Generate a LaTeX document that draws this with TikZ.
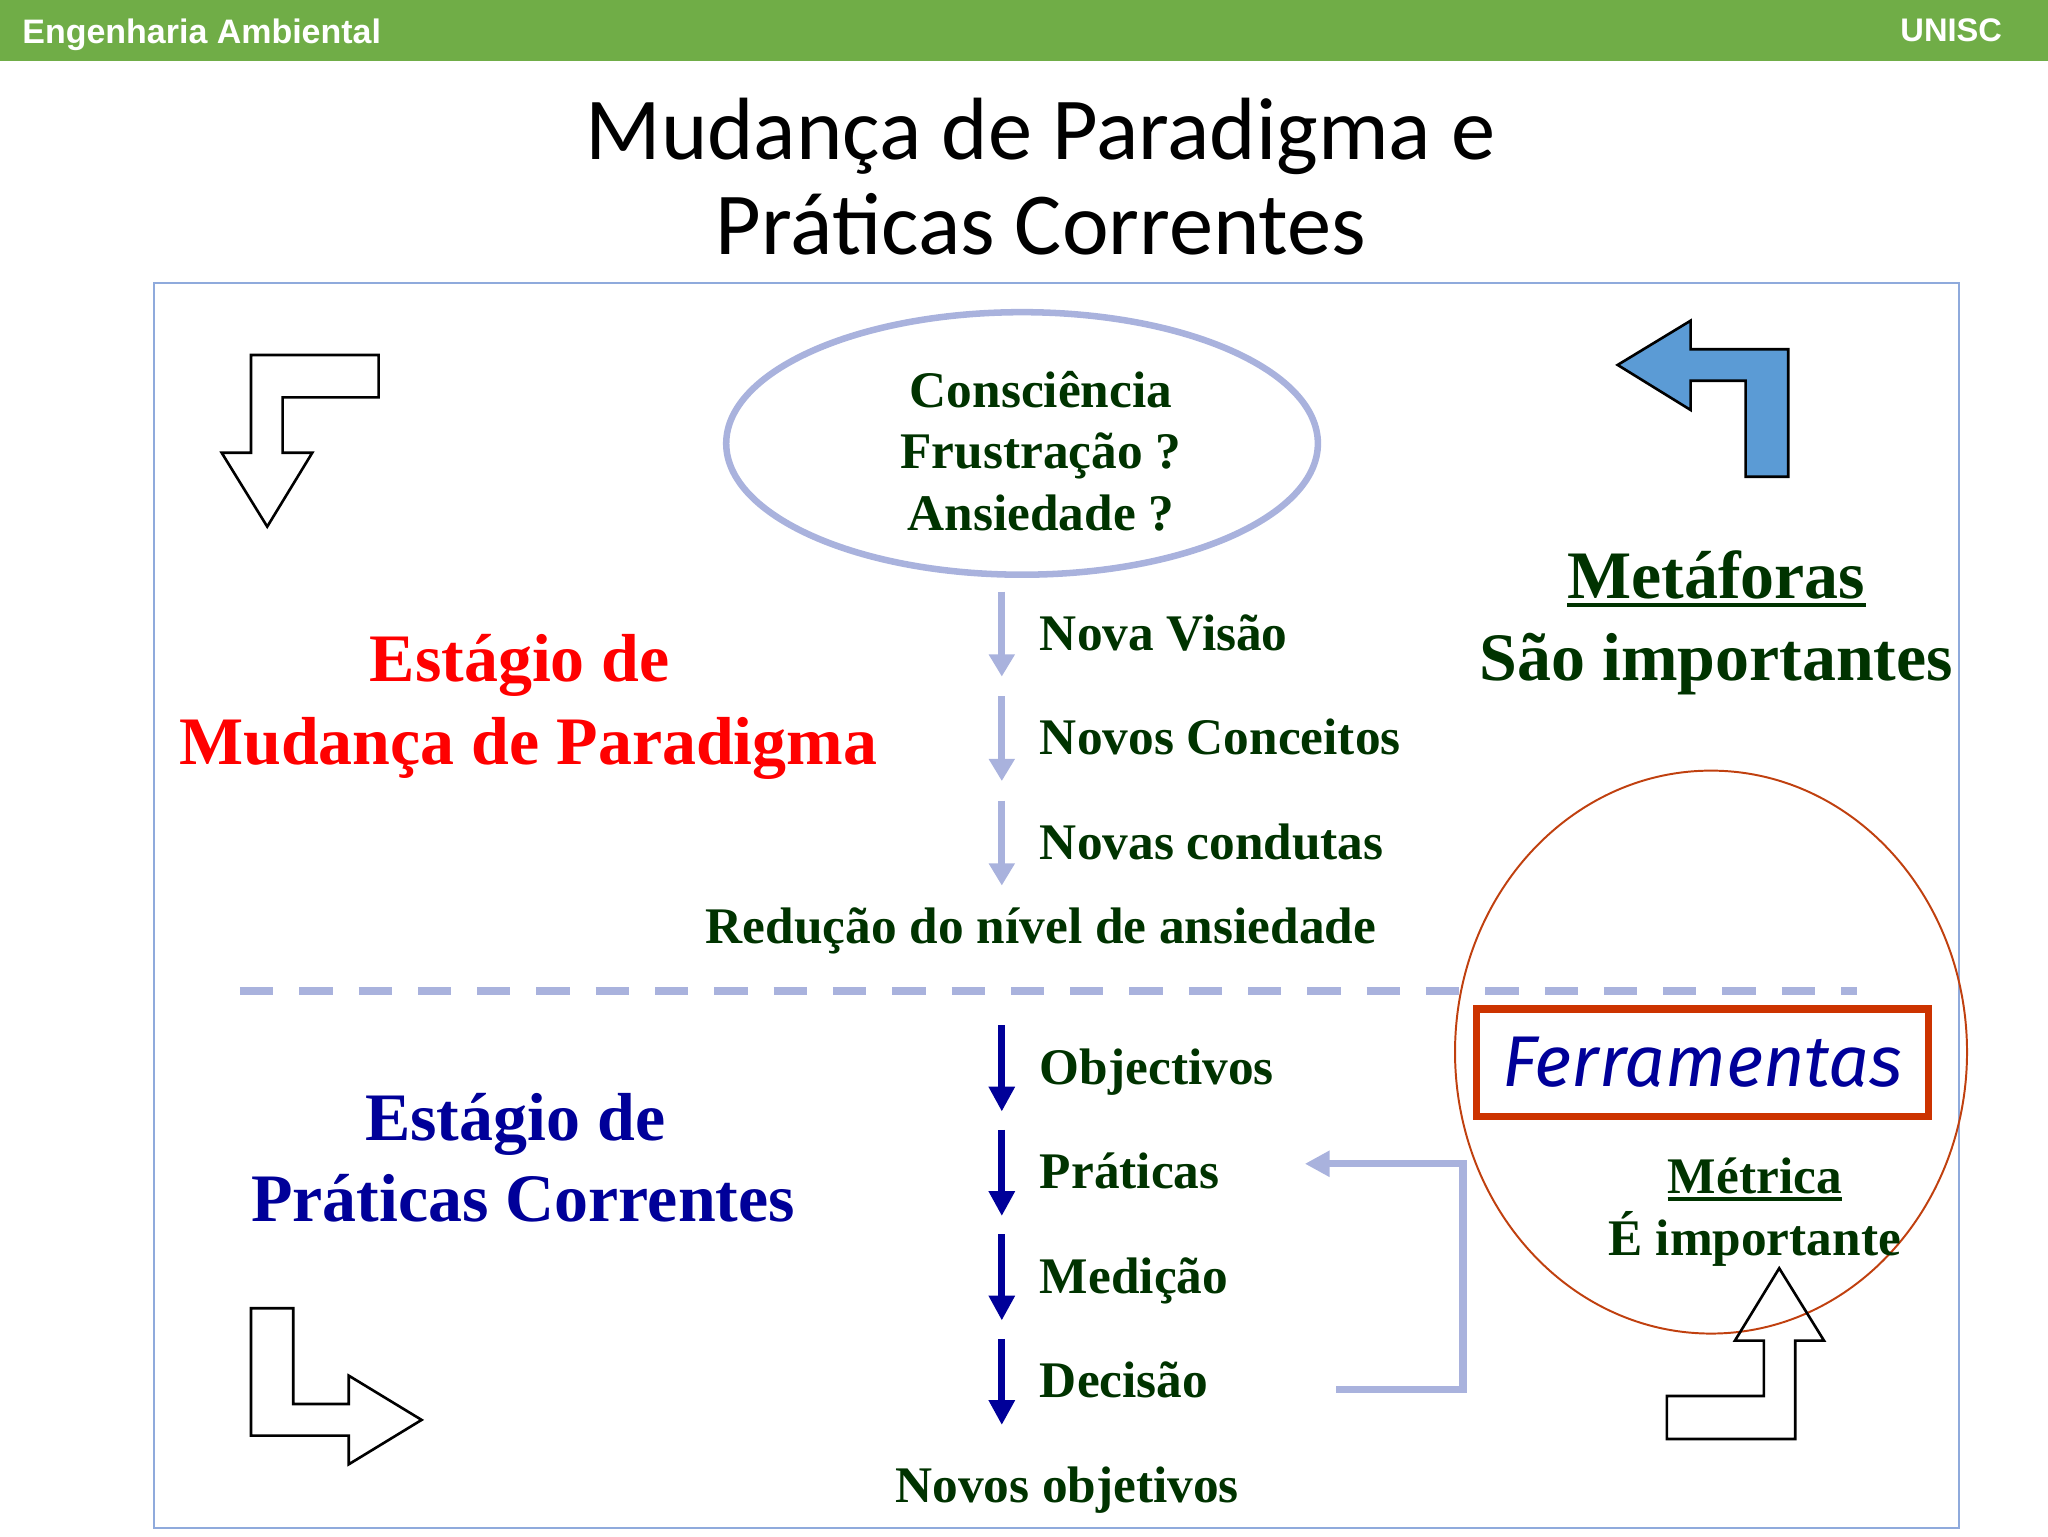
\documentclass[tikz,border=0pt]{standalone}
\usepackage{fontspec}
\setmainfont{Liberation Serif}
\newfontfamily\Titelschrift{Carlito}
\newfontfamily\Kopfschrift{Liberation Sans}
\newfontfamily\Werkzeugschrift{Fira Sans}
\usetikzlibrary{arrows.meta, calc, positioning}

\definecolor{Kopfgruen}{HTML}{70AD47}
\definecolor{Rahmenblau}{HTML}{8FAADC}
\definecolor{Lavendel}{HTML}{A9B2DD}
\definecolor{Dunkelgruen}{HTML}{003300}
\definecolor{Marine}{HTML}{000099}
\definecolor{Signalrot}{HTML}{FF0000}
\definecolor{Ziegel}{HTML}{CC3300}
\definecolor{Kreisrot}{HTML}{C0400F}
\definecolor{Pfeilblau}{HTML}{5B9BD5}

\begin{document}
\begin{tikzpicture}
	[
	x=1pt, y=-1pt,																	%1 Einheit = 1pt, y nach unten
	Beschriftung/.style={inner sep=0pt, anchor=base, text=Dunkelgruen, font=\fontsize{39.3}{47}\selectfont\bfseries},	%gruene Texte
	BeschrLinks/.style={Beschriftung, anchor=base west},							%Texte neben den Pfeilen
	GrossText/.style={inner sep=0pt, anchor=base, font=\fontsize{52}{62}\selectfont\bfseries},	%Stadien und Metaphern
	WandelPfeil/.style={draw=Lavendel, line width=5.5pt, -{Triangle[length=17pt,width=19pt]}},	%Pfeile oben
	PraxisPfeil/.style={draw=Marine, line width=5.5pt, -{Triangle[length=19pt,width=19pt]}},	%Pfeile unten
	Rueckpfeil/.style={draw=Lavendel, line width=5.6pt, line join=miter, -{Triangle[length=19pt,width=19pt]}},	%Rueckfuehrung
	Trennlinie/.style={draw=Lavendel, line width=6.4pt, dash pattern=on 25.5pt off 19.9pt},	%gestrichelte Trennung
	Blockpfeil/.style={draw=black, line width=2pt, line join=miter},				%Eckpfeile
	Unterstrich/.style={draw=Dunkelgruen, line width=3pt}							%Unterstreichung
	]

	%% Definitionen %%
	\def\PfeilX{767}		%x-Lage der senkrechten Pfeile
	\def\TextX{796}			%linker Rand der Pfeiltexte
	\def\MitteX{797}		%Mitte der zentrierten Texte

	\useasboundingbox (0,0) rectangle (1568,1176);

	% Kopfzeile
	\fill[Kopfgruen] (0,0) rectangle (1568,47);
	\node[inner sep=0pt, anchor=base west, text=white, font=\Kopfschrift\fontsize{26}{30}\selectfont\bfseries] (fach) at (17,33) {Engenharia Ambiental};
	\node[inner sep=0pt, anchor=base east, text=white, font=\Kopfschrift\fontsize{25}{30}\selectfont\bfseries] (uni) at (1533,31.5) {UNISC};

	% Titel
	\node[inner sep=0pt, anchor=base, font=\Titelschrift\fontsize{67.7}{73}\selectfont] (titelA) at (796.5,122) {Mudança de Paradigma e};
	\node[inner sep=0pt, anchor=base, font=\Titelschrift\fontsize{67.7}{73}\selectfont] (titelB) at (797,195) {Práticas Correntes};

	% Rahmen und Trennlinie
	\draw[Rahmenblau, line width=1.5pt] (118,217) rectangle (1500,1170);
	\draw[Trennlinie] (183.7,758.5) -- (1422,758.5);

	% Eckpfeile
	\draw[Blockpfeil] (192.2,271.8) -- (289.9,271.8) -- (289.9,304.2) -- (216.4,304.2) -- (216.4,346.6) -- (239.1,346.6) -- (204.6,403.2) -- (169.7,346.6) -- (192.2,346.6) -- cycle;	%oben links
	\filldraw[Blockpfeil, fill=Pfeilblau] (1238.5,279.4) -- (1294.4,245.5) -- (1294.4,267.4) -- (1369.1,267.4) -- (1369.1,365) -- (1336.5,365) -- (1336.5,291.5) -- (1294.4,291.5) -- (1294.4,313.9) -- cycle;	%oben rechts
	\draw[Blockpfeil] (192.2,1001.6) -- (224.5,1001.6) -- (224.5,1074.9) -- (267,1074.9) -- (267,1053.2) -- (322.8,1087.1) -- (267,1121.1) -- (267,1099.1) -- (192.2,1099.1) -- cycle;	%unten links

	% Kreis um die Werkzeuge
	\draw[Kreisrot, line width=1.5pt] (1310,805.5) ellipse [x radius=196pt, y radius=215.5pt];
	\draw[Blockpfeil] (1362.2,971) -- (1396.5,1026.4) -- (1374.5,1026.4) -- (1374.5,1101.7) -- (1276.2,1101.7) -- (1276.2,1068.8) -- (1350.5,1068.8) -- (1350.5,1026.4) -- (1328.3,1026.4) -- cycle;	%unten rechts

	% Oval oben
	\draw[Lavendel, line width=5pt] (782.5,339.5) ellipse [x radius=226.5pt, y radius=100.5pt];
	\node[Beschriftung] (bewusst) at (\MitteX,312) {Consciência};
	\node[Beschriftung] (frust)   at (\MitteX,359) {Frustração ?};
	\node[Beschriftung] (angst)   at (\MitteX,406) {Ansiedade ?};

	% Stadium Paradigmenwechsel
	\node[GrossText, text=Signalrot] (wandelA) at (398,522) {Estágio de};
	\node[GrossText, text=Signalrot] (wandelB) at (404.5,585) {Mudança de Paradigma};
	\foreach \i/\y in {1/453,2/533,3/613}{
		\coordinate (wa\i) at (\PfeilX,\y);
		\coordinate (we\i) at (\PfeilX,\y+65);
		\draw[WandelPfeil] (wa\i) -- (we\i);
	}
	\node[BeschrLinks] (visao)     at (\TextX,498) {Nova Visão};
	\node[BeschrLinks] (conceitos) at (\TextX,578) {Novos Conceitos};
	\node[BeschrLinks] (condutas)  at (\TextX,658) {Novas condutas};
	\node[Beschriftung] (reducao)  at (\MitteX,722) {Redução do nível de ansiedade};

	% Metaphern
	\node[GrossText, text=Dunkelgruen] (meta) at (1314,458) {Metáforas};
	\draw[Unterstrich] ($(meta.base west)+(0,5)$) -- ($(meta.base east)+(0,5)$);
	\node[GrossText, text=Dunkelgruen] (wichtig) at (1314,521) {São importantes};

	% Stadium aktuelle Praxis
	\node[GrossText, text=Marine] (praxisA) at (394.5,873) {Estágio de};
	\node[GrossText, text=Marine] (praxisB) at (400.5,935) {Práticas Correntes};
	\foreach \i/\y in {1/785,2/865,3/945,4/1025}{
		\coordinate (pa\i) at (\PfeilX,\y);
		\coordinate (pe\i) at (\PfeilX,\y+66);
		\draw[PraxisPfeil] (pa\i) -- (pe\i);
	}
	\node[BeschrLinks] (objectivos) at (\TextX,830) {Objectivos};
	\node[BeschrLinks] (praticas)   at (\TextX,910) {Práticas};
	\node[BeschrLinks] (medicao)    at (\TextX,990) {Medição};
	\node[BeschrLinks] (decisao)    at (\TextX,1070) {Decisão};
	\node[Beschriftung] (novos)     at (817,1150) {Novos objetivos};

	% Rueckfuehrung Decisao -> Praticas
	\coordinate (rStart) at (1023,1064);
	\coordinate (rEckeU) at (1120,1064);
	\coordinate (rEckeO) at (1120,891);
	\coordinate (rEnde)  at (999,891);
	\draw[Rueckpfeil] (rStart) -- (rEckeU) -- (rEckeO) -- (rEnde);

	% Werkzeuge und Metrik
	\node[draw=Ziegel, line width=5.5pt, minimum width=346pt, minimum height=82pt, inner sep=0pt, text=Marine, font=\Werkzeugschrift\itshape\fontsize{55}{60}\selectfont] (werkzeug) at (1303.5,813.5) {Ferramentas};
	\node[Beschriftung] (metrica) at (1343.5,914) {Métrica};
	\draw[Unterstrich, line width=2.5pt] ($(metrica.base west)+(0,4)$) -- ($(metrica.base east)+(0,4)$);
	\node[Beschriftung] (importante) at (1343.5,961) {É importante};
\end{tikzpicture}
\end{document}
